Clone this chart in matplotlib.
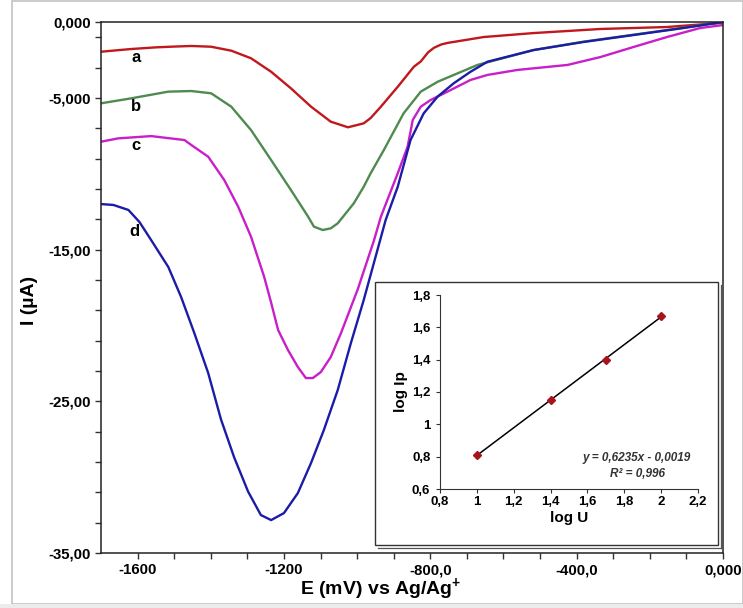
import numpy as np
import matplotlib
matplotlib.use('Agg')
import matplotlib.pyplot as plt
from matplotlib.patches import Rectangle
from matplotlib.lines import Line2D

plt.rcParams['font.family'] = ['Liberation Sans', 'DejaVu Sans']
plt.rcParams['font.weight'] = 'bold'
plt.rcParams['mathtext.fontset'] = 'custom'
plt.rcParams['mathtext.rm'] = 'Liberation Sans:bold'
plt.rcParams['mathtext.bf'] = 'Liberation Sans:bold'

# voltammograms, E in mV vs Ag/Ag+, I in uA
E_a = [-1700, -1650, -1617, -1549, -1500, -1453, -1399, -1344, -1290, -1235, -1181, -1126,
       -1072, -1025, -982, -963, -935, -889, -845, -826, -806, -790, -770, -753, -654, -518,
       -335, -153, 0]
I_a = [-1.96, -1.85, -1.78, -1.67, -1.62, -1.58, -1.63, -1.89, -2.39, -3.28, -4.37, -5.58,
       -6.57, -6.94, -6.68, -6.33, -5.58, -4.27, -2.95, -2.60, -2.00, -1.70, -1.48, -1.38, -0.99,
       -0.73, -0.46, -0.33, -0.05]

E_b = [-1700, -1617, -1516, -1453, -1399, -1344, -1290, -1235, -1181, -1134, -1118, -1094,
       -1072, -1053, -1009, -982, -963, -927, -873, -826, -780, -725, -671, -518, -382, -245,
       -109, 0]
I_b = [-5.36, -5.03, -4.59, -4.55, -4.70, -5.58, -7.12, -9.10, -11.07, -12.83, -13.49, -13.71,
       -13.60, -13.27, -11.95, -10.86, -9.97, -8.44, -6.02, -4.59, -3.94, -3.38, -2.83, -1.85,
       -1.30, -0.84, -0.38, 0.0]

E_c = [-1700, -1653, -1563, -1472, -1453, -1407, -1363, -1325, -1290, -1254, -1235, -1216,
       -1189, -1162, -1140, -1121, -1099, -1072, -1044, -998, -954, -935, -889, -862, -848,
       -826, -799, -753, -690, -644, -562, -425, -335, -245, -153, -63, 0]
I_c = [-7.89, -7.67, -7.52, -7.78, -8.11, -8.88, -10.42, -12.18, -14.15, -16.80, -18.50, -20.30,
       -21.62, -22.74, -23.47, -23.47, -23.07, -22.08, -20.50, -17.60, -14.40, -12.83, -9.97,
       -8.22, -6.46, -5.58, -5.14, -4.59, -3.82, -3.49, -3.16, -2.83, -2.31, -1.65, -0.99,
       -0.40, -0.20]

E_d = [-1700, -1666, -1625, -1595, -1563, -1516, -1481, -1445, -1407, -1372, -1336, -1298,
       -1263, -1235, -1200, -1162, -1126, -1091, -1053, -1017, -982, -922, -889, -854, -818,
       -780, -736, -690, -644, -518, -382, -245, -109, 0]
I_d = [-12.0, -12.06, -12.39, -13.18, -14.37, -16.15, -18.13, -20.50, -23.14, -26.20, -28.70,
       -30.95, -32.50, -32.83, -32.37, -31.05, -29.07, -26.90, -24.26, -21.16, -18.33, -13.05,
       -10.86, -7.78, -6.02, -4.92, -4.04, -3.28, -2.62, -1.85, -1.32, -0.86, -0.40, 0.0]

curve_names = ['a', 'b', 'c', 'd']
curve_colors = ['#c0181c', '#4f8a4f', '#c81fc8', '#1c1ca8']
label_E = [-1603, -1603, -1603, -1609]
label_I = [-2.31, -5.60, -8.11, -13.78]

# inset: log Ip vs log scan rate
log_v = [1.0, 1.4, 1.7, 2.0]
log_Ip = [0.81, 1.15, 1.40, 1.67]

x_ticks = list(range(-1600, 1, 100))
x_labels = {-1600: '-1600', -1200: '-1200', -800: '-800,0', -400: '-400,0', 0: '0,000'}
y_ticks = [0] + list(range(-1, -36, -2))
y_labels = {0: '0,000', -5: '-5,000', -15: '-15,00', -25: '-25,00', -35: '-35,00'}

W, H = 743, 608


def fig_box(x0, y0, x1, y1):
    # pixel box (top-left origin) -> figure fraction [l, b, w, h]
    return [x0 / W, 1 - y1 / H, (x1 - x0) / W, (y1 - y0) / H]


fig = plt.figure(figsize=(W / 100, H / 100), dpi=100)
fig.patch.set_facecolor('white')

# light outer frame
fig.add_artist(Rectangle((12 / W, 1 - 604 / H), (W - 12) / W, 603 / H, transform=fig.transFigure,
                         fill=False, edgecolor='#c4c4c4', linewidth=1.2))
fig.add_artist(Rectangle((0, 0), 1, 4 / H, transform=fig.transFigure,
                         facecolor='#ececec', edgecolor='none'))

ax = fig.add_axes(fig_box(101, 22, 723, 553))
for E, I, col in zip([E_a, E_b, E_c, E_d], [I_a, I_b, I_c, I_d], curve_colors):
    ax.plot(E, I, color=col, linewidth=1.7, solid_joinstyle='round', solid_capstyle='round')

for name, xe, yi in zip(curve_names, label_E, label_I):
    ax.text(xe, yi, name, fontsize=12, fontweight='bold', ha='center', va='center')

ax.set_xlim(-1700, 0)
ax.set_ylim(-35, 0)
ax.set_xticks(x_ticks)
ax.set_xticklabels([x_labels.get(t, '') for t in x_ticks])
ax.set_yticks(y_ticks)
ax.set_yticklabels([y_labels.get(t, '') for t in y_ticks])
ax.tick_params(axis='both', direction='out', length=4, width=1, color='#333333',
               labelsize=10.8, pad=3.5)
for lab in ax.get_xticklabels() + ax.get_yticklabels():
    lab.set_fontweight('bold')
for sp in ax.spines.values():
    sp.set_color('#222222')
    sp.set_linewidth(1.1)

fig.text(29 / W, 1 - 300 / H, 'I (µA)', rotation=90, ha='center', va='center',
         fontsize=14, fontweight='bold')
fig.text(381 / W, 1 - 590 / H, r'E (mV) vs Ag/Ag$^{\mathbf{+}}$', ha='center', va='center',
         fontsize=14, fontweight='bold')

# inset frame (double line on the right and bottom)
fig.add_artist(Rectangle((375 / W, 1 - 545 / H), (718 - 375) / W, (545 - 282) / H,
                         transform=fig.transFigure, facecolor='white', edgecolor='#333333',
                         linewidth=1.0, zorder=3))
fig.add_artist(Line2D([721 / W, 721 / W], [1 - 548 / H, 1 - 285 / H], transform=fig.transFigure,
                      color='#555555', linewidth=0.9, zorder=3))
fig.add_artist(Line2D([378 / W, 721 / W], [1 - 548 / H, 1 - 548 / H], transform=fig.transFigure,
                      color='#555555', linewidth=0.9, zorder=3))

ins = fig.add_axes(fig_box(440, 295, 698, 489), zorder=4)
ins.patch.set_alpha(0)
coef = np.polyfit(log_v, log_Ip, 1)
fit_x = np.array([min(log_v), max(log_v)])
ins.plot(fit_x, np.polyval(coef, fit_x), color='black', linewidth=1.1)
ins.plot(log_v, log_Ip, linestyle='none', marker='D', markersize=4.5, color='#a8141c')
ins.set_xlim(0.8, 2.2)
ins.set_ylim(0.6, 1.8)
ins_x = [0.8, 1.0, 1.2, 1.4, 1.6, 1.8, 2.0, 2.2]
ins_y = [0.6, 0.8, 1.0, 1.2, 1.4, 1.6, 1.8]
ins.set_xticks(ins_x)
ins.set_xticklabels(['0,8', '1', '1,2', '1,4', '1,6', '1,8', '2', '2,2'])
ins.set_yticks(ins_y)
ins.set_yticklabels(['0,6', '0,8', '1', '1,2', '1,4', '1,6', '1,8'])
ins.tick_params(axis='both', direction='out', length=3, width=0.8, color='#333333',
                labelsize=9.5)
ins.tick_params(axis='x', pad=2)
ins.tick_params(axis='y', pad=4)
for lab in ins.get_xticklabels() + ins.get_yticklabels():
    lab.set_fontweight('bold')
ins.spines['top'].set_visible(False)
ins.spines['right'].set_visible(False)
for s in ['left', 'bottom']:
    ins.spines[s].set_color('#333333')
    ins.spines[s].set_linewidth(0.8)
ins.set_xlabel('log U', fontsize=11, fontweight='bold', labelpad=2)
ins.set_ylabel('log Ip', fontsize=11, fontweight='bold', labelpad=3)
ins.text(1.869, 0.792, 'y = 0,6235x - 0,0019', fontsize=8.5, fontweight='bold', style='italic',
         ha='center', va='center', color='#333333')
ins.text(1.869, 0.693, 'R² = 0,996', fontsize=8.5, fontweight='bold', style='italic',
         ha='center', va='center', color='#333333')

fig.savefig('out.png', dpi=100)
